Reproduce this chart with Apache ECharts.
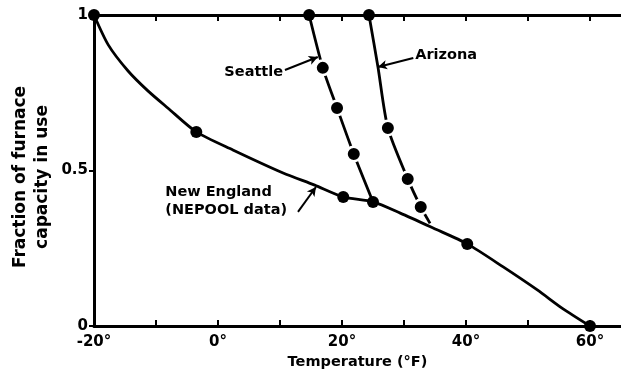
<!DOCTYPE html>
<html>
<head>
<meta charset="utf-8">
<script src="https://cdn.jsdelivr.net/npm/echarts@6/dist/echarts.min.js"></script>
<style>
html,body{margin:0;padding:0;background:#fff;}
#chart{width:621px;height:376px;}
</style>
</head>
<body>
<div id="chart"></div>
<script>
// ---- data (temperature °F, fraction of furnace capacity) ----
var newEnglandCurve = [[-20,1],[-17.7,0.904],[-14.5,0.82],[-11.3,0.756],[-8.1,0.701],[-3.5,0.624],[2.4,0.566],[10.5,0.492],[15.6,0.453],[20.2,0.415],[25,0.399],[29.4,0.363],[34.7,0.315],[40.2,0.264],[46,0.19],[51.5,0.116],[55.6,0.056],[60,0]];
var newEnglandDots = [[-20,1],[-3.5,0.624],[20.2,0.415],[25,0.399],[40.2,0.264],[60,0]];
var seattleCurve = [[14.7,1],[16.9,0.83],[19.2,0.701],[21.9,0.553],[25,0.399]];
var seattleDots = [[14.7,1],[16.9,0.83],[19.2,0.701],[21.9,0.553]];
var arizonaCurve = [[24.35,1],[25.8,0.833],[27.4,0.637],[30.6,0.473],[32.7,0.383],[34.2,0.33]];
var arizonaDots = [[24.35,1],[27.4,0.637],[30.6,0.473],[32.7,0.383]];
var xTickValues = [-20,-10,0,10,20,30,40,50,60];
var xLabelValues = [-20,0,20,40,60];
var xTickLabels = ['-20°','0°','20°','40°','60°'];
var yTickLabels = ['0','0.5','1'];
var seattleLabel = {text:'Seattle', at:[10.5,0.817], from:[10.8,0.823], to:[16.1,0.865]};
var arizonaLabel = {text:'Arizona', at:[31.8,0.871], from:[31.5,0.862], to:[25.8,0.833]};
var neLabel = {text:'New England\n(NEPOOL data)', at:[-8.5,0.402], from:[12.9,0.367], to:[15.8,0.447]};

var FONT = 'DejaVu Sans';
var chart = echarts.init(document.getElementById('chart'), null, {renderer:'canvas'});

function dotSeries(data, ringed) {
  return {
    type:'scatter', data:data.map(function(p){
      var ring = ringed && p[1] > 0 && p[1] < 1;
      return {value:p, symbolSize: ring ? 14.5 : 12,
        itemStyle:{color:'#000', opacity:1, borderColor:'#fff', borderWidth: ring ? 2.5 : 0}};
    }),
    symbol:'circle', z:5, clip:false, silent:true, itemStyle:{opacity:1}
  };
}
function curveSeries(data) {
  return {type:'line', data:data, showSymbol:false, smooth:0.25, clip:false,
    lineStyle:{color:'#000', width:2.8}, z:3, silent:true};
}
function annotation(a, pos) {
  return {
    type:'line', data:[], z:4, silent:true,
    markPoint:{symbol:'circle', symbolSize:0, silent:true,
      data:[{coord:a.at, label:{show:true, formatter:a.text, position:pos, distance:0,
        color:'#000', fontFamily:FONT, fontWeight:'bold', fontSize:14.5, lineHeight:18, align: pos==='left'?'right':'left'}}]},
    markLine:{silent:true, symbol:['none','arrow'], symbolSize:[7,9], animation:false,
      lineStyle:{color:'#000', width:2, type:'solid'}, label:{show:false},
      data:[[{coord:a.from},{coord:a.to}]]}
  };
}

var option = {
  animation:false,
  backgroundColor:'#fff',
  grid:{left:94, right:0, top:15, bottom:50},
  xAxis:[{
    type:'value', min:-20, max:65, position:'bottom',
    axisLine:{show:true, onZero:false, lineStyle:{color:'#000', width:3}},
    axisTick:{show:true, inside:true, length:6, lineStyle:{color:'#000', width:2}, customValues:xTickValues},
    axisLabel:{show:true, customValues:xLabelValues, margin:9,
      formatter:function(v){ var i = xLabelValues.indexOf(v); return i>=0 ? xTickLabels[i] : ''; },
      color:'#000', fontFamily:FONT, fontWeight:'bold', fontSize:15},
    splitLine:{show:false},
    name:'Temperature (°F)', nameLocation:'middle', nameGap:29,
    nameTextStyle:{color:'#000', fontFamily:FONT, fontWeight:'bold', fontSize:14.5}
  },{
    type:'value', min:-20, max:65, position:'top',
    axisLine:{show:true, onZero:false, lineStyle:{color:'#000', width:3}},
    axisTick:{show:true, inside:true, length:6, lineStyle:{color:'#000', width:2}, customValues:xTickValues},
    axisLabel:{show:false}, splitLine:{show:false}
  }],
  yAxis:{
    type:'value', min:0, max:1, interval:0.5, position:'left',
    axisLine:{show:true, onZero:false, lineStyle:{color:'#000', width:3}},
    axisTick:{show:true, inside:false, length:5, lineStyle:{color:'#000', width:2}},
    axisLabel:{margin:6, color:'#000', fontFamily:FONT, fontWeight:'bold', fontSize:15,
      formatter:function(v){ return yTickLabels[Math.round(v/0.5)]; }},
    splitLine:{show:false},
    name:'Fraction of furnace\ncapacity in use', nameLocation:'middle', nameRotate:90, nameGap:40, nameMoveOverlap:false,
    nameTextStyle:{color:'#000', fontFamily:FONT, fontWeight:'bold', fontSize:17, lineHeight:22, padding:[0,13,0,0]}
  },
  series:[
    curveSeries(newEnglandCurve),
    curveSeries(seattleCurve),
    curveSeries(arizonaCurve),
    annotation(seattleLabel,'left'),
    annotation(arizonaLabel,'right'),
    annotation(neLabel,'right'),
    dotSeries(newEnglandDots,false),
    dotSeries(seattleDots,true),
    dotSeries(arizonaDots,true)
  ]
};
chart.setOption(option);
</script>
</body>
</html>
